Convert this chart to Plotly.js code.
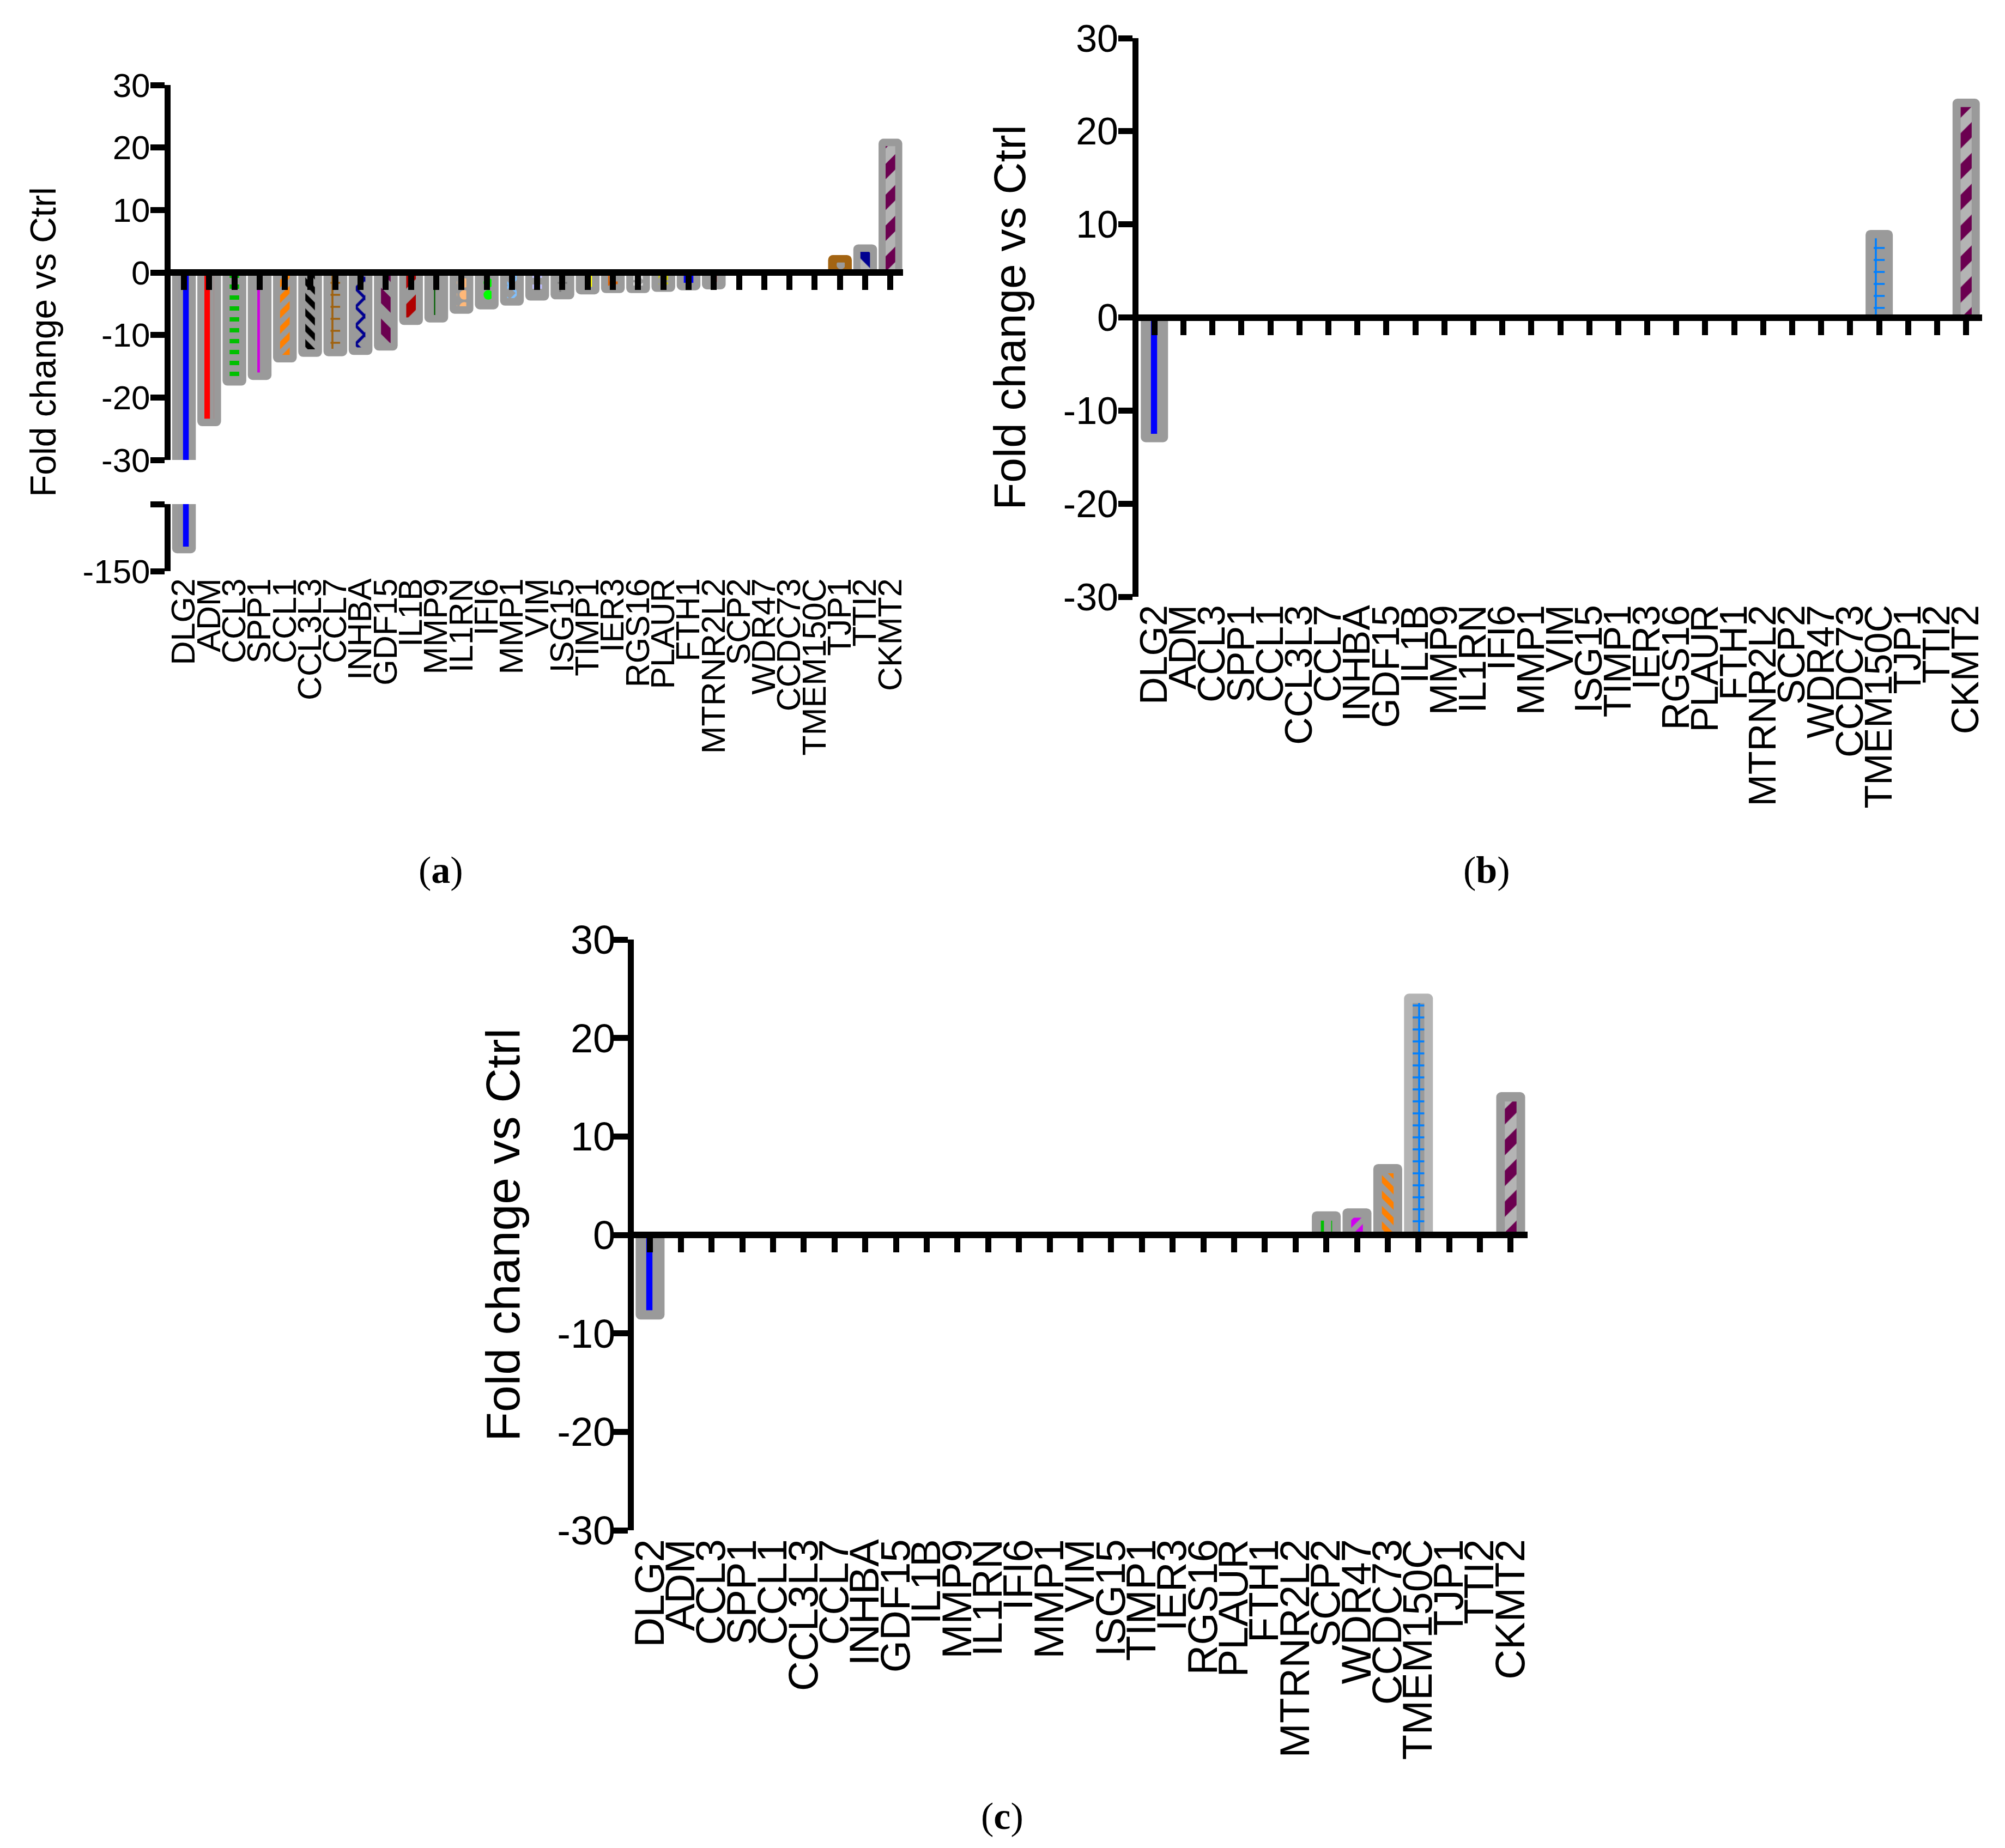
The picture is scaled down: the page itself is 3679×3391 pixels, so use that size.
<!DOCTYPE html>
<html><head><meta charset="utf-8">
<script src="https://cdn.plot.ly/plotly-3.0.1.min.js"></script>
<style>html,body{margin:0;padding:0;background:#fff}</style>
</head><body><div id="chart" style="width:3679px;height:3391px"></div>
<script>
// ---------- data ----------
const genes = ['DLG2','ADM','CCL3','SPP1','CCL1','CCL3L3','CCL7','INHBA','GDF15','IL1B','MMP9','IL1RN','IFI6','MMP1','VIM','ISG15','TIMP1','IER3','RGS16','PLAUR','FTH1','MTRNR2L2','SCP2','WDR47','CCDC73','TMEM150C','TJP1','TTI2','CKMT2'];

const valsA = [-142,-24.6,-18.1,-17.2,-14.4,-13.5,-13.4,-13.2,-12.5,-8.4,-8.0,-6.6,-5.9,-5.3,-4.5,-4.3,-3.5,-3.3,-3.3,-3.1,-2.85,-2.7,0,0,0,0,2.8,4.5,21.4];
const valsB = [-13.4,0,0,0,0,0,0,0,0,0,0,0,0,0,0,0,0,0,0,0,0,0,0,0,0,9.4,0,0,23.5];
const valsC = [-8.6,0,0,0,0,0,0,0,0,0,0,0,0,0,0,0,0,0,0,0,0,0,2.4,2.7,7.2,24.5,0,0,14.5];

const yTicksMain = [-30,-20,-10,0,10,20,30];
const yTickTextMain = ['-30','-20','-10','0','10','20','30'];
const yTicksBreak = [-150,-120];
const yTickTextBreak = ['-150',''];
const yTitle = 'Fold change vs Ctrl';

// ---------- styles ----------
const G = '#9a9a9a', LG = '#b4b4b4';
const fgA = ['#0000ff','#ff0000','#00c000','#d000e0','#ff8000','#000000','#a0620f','#000090','#6b0050','#b00000','#006000','#ffb878','#00ff00','#80c0ff','#c0c0ff','#7a7a7a','#ffff00','#e06000','#d8d8d8','#c8c800','#0000ff','#ff0000',G,G,G,G,G,'#000090','#6b0050'];
const shA = ['|','|','-','|','/','\\','+','x','\\','/','|','.','.','x','-','+','|','+','.','.','|','|','','','','','.','\\','/'];
const szA = [19,19,20,19,20,20,22,24,40,40,19,22,22,20,20,22,19,22,20,20,19,19,20,20,20,20,20,40,40];
const soA = [0.6,0.6,0.4,0.25,0.5,0.5,0.3,0.4,0.5,0.5,0.12,0.5,0.5,0.4,0.4,0.3,0.4,0.4,0.5,0.5,0.5,0.5,0.4,0.4,0.4,0.4,0.5,0.5,0.5];
const outerA = genes.map((g,i)=> i===26 ? '#a36412' : G);
const bgA = genes.map((g,i)=> (i===27||i===28) ? LG : (i===26 ? '#a36412' : G));

const fgB = genes.map((g,i)=> i===0 ? '#0000ff' : i===25 ? '#0080ff' : i===28 ? '#6b0050' : G);
const shB = genes.map((g,i)=> i===0 ? '|' : i===25 ? '+' : i===28 ? '/' : '');
const szB = genes.map((g,i)=> i===0 ? 19 : i===25 ? 22 : 40);
const soB = genes.map((g,i)=> i===0 ? 0.6 : i===25 ? 0.3 : 0.5);
const outerB = genes.map(()=>G);
const bgB = genes.map((g,i)=> i===28 ? LG : G);

const fgC = genes.map((g,i)=> ({0:'#0000ff',22:'#00c000',23:'#d000f0',24:'#ff8000',25:'#0080ff',28:'#6b0050'})[i] || G);
const shC = genes.map((g,i)=> ({0:'|',22:'|',23:'/',24:'\\',25:'+',28:'/'})[i] || '');
const szC = genes.map((g,i)=> ({0:19,22:19,23:20,24:20,25:22,28:40})[i] || 20);
const soC = genes.map((g,i)=> ({0:0.6,22:0.3,23:0.5,24:0.5,25:0.3,28:0.5})[i] || 0.4);
const outerC = genes.map((g,i)=> i===25 ? LG : G);
const bgC = genes.map((g,i)=> i===28 ? LG : G);

const W = 3679, H = 3391;
const fx = p => p / W, fy = p => 1 - p / H;
const FONT = 'Liberation Sans, Arial, sans-serif';
const SERIF = 'Liberation Serif, Times New Roman, serif';

function panelTraces(xa, xlab, ya, vals, d, outer, bg, fg, sh, sz, so) {
  const inner = vals.map(v => v === 0 ? 0 : v - Math.sign(v) * d);
  return [
    {type:'bar', x:genes, y:vals, xaxis:xa, yaxis:ya, width:0.94,
     marker:{color:outer, line:{width:0}, cornerradius:9}, hoverinfo:'skip', showlegend:false},
    {type:'bar', x:genes, y:inner, xaxis:xa, yaxis:ya, width:0.38,
     marker:{color:G, line:{width:0},
       pattern:{shape:sh, fgcolor:fg, bgcolor:bg, size:sz, solidity:so, fillmode:'replace', fgopacity:1}},
     hoverinfo:'skip', showlegend:false},
    {type:'scatter', x:genes, y:genes.map(()=>0), xaxis:xlab, yaxis:ya, mode:'markers',
     marker:{opacity:0, size:1}, hoverinfo:'skip', showlegend:false}
  ];
}

const traces = [].concat(
  panelTraces('x','x2','y', valsA, 1.2, outerA, bgA, fgA, shA, szA, soA),
  panelTraces('x','x2','y2', valsA, 3.0, outerA, bgA, fgA, shA, szA, soA).slice(0,2),
  panelTraces('x3','x4','y3', valsB, 0.9, outerB, bgB, fgB, shB, szB, soB),
  panelTraces('x5','x6','y4', valsC, 0.95, outerC, bgC, fgC, shC, szC, soC)
);

function zeroPos(dom, rng){ return dom[0] + (0 - rng[0]) / (rng[1] - rng[0]) * (dom[1] - dom[0]); }

function tickAxis(dom, rng, pos){
  return {domain:dom, range:rng, type:'category', anchor:'free', position:pos, side:'bottom',
    showline:true, linewidth:12, linecolor:'#000', ticks:'outside', ticklen:26, tickwidth:11, tickcolor:'#000',
    tickmode:'array', tickvals:genes,
    showticklabels:false, showgrid:false, zeroline:false, fixedrange:true};
}
function labelAxis(over, rng, pos, size){
  return {overlaying:over, range:rng, type:'category', anchor:'free', position:pos, side:'bottom',
    tickmode:'array', tickvals:genes, ticktext:genes,
    showline:false, ticks:'', tickangle:-90, tickfont:{family:FONT, size:size, color:'#000'},
    showgrid:false, zeroline:false, fixedrange:true};
}
function yAxis(dom, rng, anchor, size, vals, text, standoff){
  return {domain:dom, range:rng, anchor:anchor, showline:true, linewidth:11, linecolor:'#000',
    ticks:'outside', ticklen:26, tickwidth:11, tickcolor:'#000', tickmode:'array', tickvals:vals, ticktext:text,
    ticklabelstandoff:standoff,
    tickfont:{family:FONT, size:size, color:'#000'}, showgrid:false, zeroline:false, fixedrange:true};
}

const domXA = [fx(313), fx(1657)], rngXA = [-0.53, 28.5];
const domYA = [fy(844), fy(156)], domYA2 = [fy(1048), fy(925)];
const domXB = [fx(2089), fx(3637)], rngXB = [-0.55, 28.55];
const domYB = [fy(1095), fy(70)];
const domXC = [fx(1163), fx(2803)], rngXC = [-0.53, 28.55];
const domYC = [fy(2808), fy(1724)];
const rngY = [-30, 30];

const layout = {
  width:W, height:H, autosize:false, margin:{l:0,r:0,t:0,b:0,pad:0},
  paper_bgcolor:'#fff', plot_bgcolor:'rgba(0,0,0,0)', barmode:'overlay', showlegend:false,
  font:{family:FONT, color:'#000'},
  xaxis: tickAxis(domXA, rngXA, zeroPos(domYA, rngY)),
  xaxis2: labelAxis('x', rngXA, domYA2[0], 61),
  yaxis: yAxis(domYA, rngY, 'x', 62, yTicksMain, yTickTextMain, -12),
  yaxis2: yAxis(domYA2, [-150,-120], 'x', 62, yTicksBreak, yTickTextBreak, -12),
  xaxis3: tickAxis(domXB, rngXB, zeroPos(domYB, rngY)),
  xaxis4: labelAxis('x3', rngXB, domYB[0], 70),
  yaxis3: Object.assign(yAxis(domYB, rngY, 'x3', 70, yTicksMain, yTickTextMain, -14),
           {title:{text:yTitle, font:{family:FONT, size:82, color:'#000'}, standoff:47}}),
  xaxis5: tickAxis(domXC, rngXC, zeroPos(domYC, rngY)),
  xaxis6: labelAxis('x5', rngXC, domYC[0], 76),
  yaxis4: Object.assign(yAxis(domYC, rngY, 'x5', 74, yTicksMain, yTickTextMain, -18),
           {title:{text:yTitle, font:{family:FONT, size:88, color:'#000'}, standoff:44}}),
  annotations: [
    {text:yTitle, xref:'paper', yref:'paper', x:fx(79), y:fy(628), xanchor:'center', yanchor:'middle',
     textangle:-90, showarrow:false, font:{family:FONT, size:66, color:'#000'}},
    {text:'(<b>a</b>)', xref:'paper', yref:'paper', x:fx(809), y:fy(1596), xanchor:'center', yanchor:'middle',
     showarrow:false, font:{family:SERIF, size:70, color:'#000'}},
    {text:'(<b>b</b>)', xref:'paper', yref:'paper', x:fx(2728), y:fy(1596), xanchor:'center', yanchor:'middle',
     showarrow:false, font:{family:SERIF, size:70, color:'#000'}},
    {text:'(<b>c</b>)', xref:'paper', yref:'paper', x:fx(1839), y:fy(3332), xanchor:'center', yanchor:'middle',
     showarrow:false, font:{family:SERIF, size:70, color:'#000'}}
  ]
};

Plotly.newPlot('chart', traces, layout, {staticPlot:true, displayModeBar:false});
</script>
</body></html>
